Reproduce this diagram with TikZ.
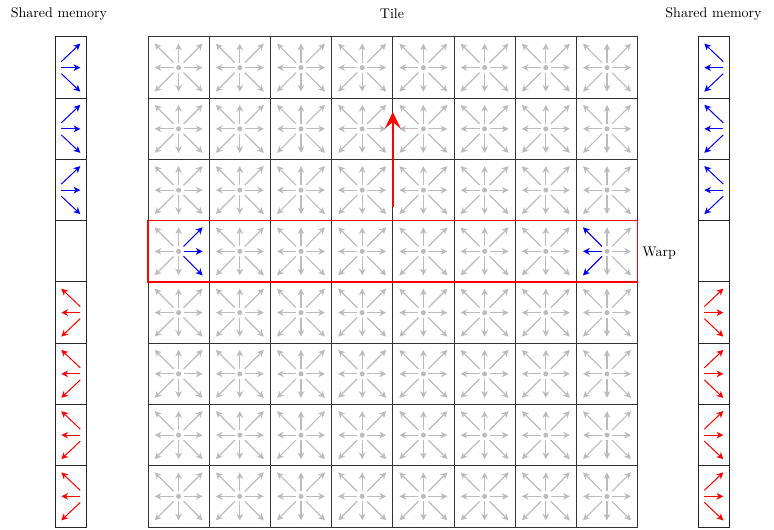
\documentclass[tikz,border=0pt]{standalone}
\usetikzlibrary{arrows.meta}
\definecolor{ga}{RGB}{188,188,188}
\definecolor{bl}{RGB}{0,0,255}
\definecolor{rd}{RGB}{255,0,0}
\begin{document}
\begin{tikzpicture}[x=0.75pt,y=-0.75pt,
  cellbox/.style={draw=black!80, line width=0.75pt, minimum width=45.9pt, minimum height=45.94pt, inner sep=0pt, outer sep=0pt},
  membox/.style={draw=black!85, line width=0.75pt, minimum width=23.25pt, minimum height=45.94pt, inner sep=0pt, outer sep=0pt},
  garr/.style={ga, line width=0.9pt, -{Stealth[length=5pt,width=5pt,inset=1.5pt]}},
  barr/.style={bl, line width=0.75pt, -{Stealth[length=5pt,width=5pt,inset=1.5pt]}},
  rarr/.style={rd, line width=0.75pt, -{Stealth[length=5pt,width=5pt,inset=1.5pt]}},
  bigarr/.style={rd, line width=1.6pt, -{Stealth[length=12.5pt,width=12pt,inset=5pt]}},
  warpbox/.style={draw=rd, line width=1.1pt},
  lbl/.style={font=\fontsize{10.5}{12}\selectfont, inner sep=0pt}]
\useasboundingbox (0,0) rectangle (774,530);
% titles
\node[lbl] (tl) at (59,14) {Shared memory};
\node[lbl] (tt) at (392,14) {Tile};
\node[lbl] (tr) at (713.5,14) {Shared memory};
% grid cells
\foreach \r in {1,...,8}{
  \foreach \c in {1,...,8}{
    \node[cellbox] (c-\r-\c) at ({148+(\c-0.5)*61.2},{37+(\r-0.5)*61.25}) {};
    \begin{scope}[shift={(c-\r-\c.center)}]
      \foreach \dx/\dy in {1/0,1/1,0/1,-1/1,-1/0,-1/-1,0/-1,1/-1}{
        \draw[garr] ({5*\dx},{5*\dy}) -- ({24*\dx},{24*\dy});
      }
      \fill[ga] (0,0) circle (1.9pt);
    \end{scope}
  }
}
% blue arrows in warp end cells
\begin{scope}[shift={(c-4-1.center)}]
  \foreach \dy in {-1,0,1}{\draw[barr] ({5},{5*\dy}) -- ({24},{24*\dy});}
\end{scope}
\begin{scope}[shift={(c-4-8.center)}]
  \foreach \dy in {-1,0,1}{\draw[barr] ({-5},{5*\dy}) -- ({-24},{24*\dy});}
\end{scope}
% shared memory columns
\foreach \r in {1,...,8}{
  \node[membox] (ml-\r) at (70.8,{37+(\r-0.5)*61.25}) {};
  \node[membox] (mr-\r) at (713.8,{37+(\r-0.5)*61.25}) {};
}
\foreach \r in {1,2,3}{
  \begin{scope}[shift={(ml-\r.center)}]
    \foreach \s in {-1,0,1}{\draw[barr] (-9.5,{6*\s}) -- (9.5,{24*\s});}
  \end{scope}
  \begin{scope}[shift={(mr-\r.center)}]
    \foreach \s in {-1,0,1}{\draw[barr] (9.5,{6*\s}) -- (-9.5,{24*\s});}
  \end{scope}
}
\foreach \r in {5,6,7,8}{
  \begin{scope}[shift={(ml-\r.center)}]
    \foreach \s in {-1,0,1}{\draw[rarr] (9.5,{6*\s}) -- (-9.5,{24*\s});}
  \end{scope}
  \begin{scope}[shift={(mr-\r.center)}]
    \foreach \s in {-1,0,1}{\draw[rarr] (-9.5,{6*\s}) -- (9.5,{24*\s});}
  \end{scope}
}
% warp
\draw[warpbox] (c-4-1.north west) rectangle (c-4-8.south east);
\node[lbl, anchor=west] (warp) at (642,252.7) {Warp};
% big red arrow
\coordinate (rs) at (392.8,207);
\coordinate (re) at (392.8,112);
\draw[bigarr] (rs) -- (re);
\end{tikzpicture}
\end{document}
